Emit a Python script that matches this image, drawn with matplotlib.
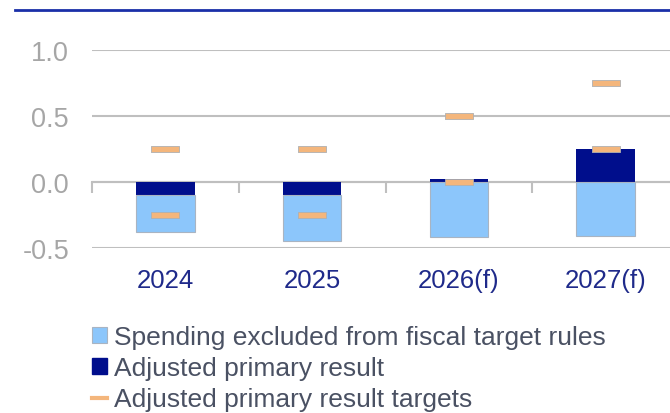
import matplotlib.pyplot as plt
import numpy as np
from matplotlib.lines import Line2D
from matplotlib.patches import Patch

plt.rcParams['font.family'] = ['Liberation Sans', 'DejaVu Sans']

# values in % of GDP
years = ["2024", "2025", "2026(f)", "2027(f)"]
adjusted_primary = [-0.10, -0.10, 0.02, 0.25]
excluded_spending = [-0.28, -0.35, -0.42, -0.41]
target_lower = [-0.25, -0.25, 0.00, 0.25]
target_upper = [0.25, 0.25, 0.50, 0.75]

light_blue = '#8cc6fb'
navy = '#000e8c'
orange = '#f4b67c'
grid_gray = '#bfbfbf'

fig = plt.figure(figsize=(6.70, 4.14), dpi=100)
ax = fig.add_axes([92 / 670, 165 / 414, 587 / 670, 198.3 / 414])

x = np.arange(len(years))
width = 0.4

# navy sits next to zero, the excluded spending hangs below it
ax.bar(x, adjusted_primary, width, color=navy, zorder=3)
bottoms = np.minimum(adjusted_primary, 0)
ax.bar(x, excluded_spending, width, bottom=bottoms, color=light_blue,
       edgecolor='#a9b4c2', linewidth=0.8, zorder=3)

# flat rectangle marker for the targets
dash = [(-5, -1), (5, -1), (5, 1), (-5, 1), (-5, -1)]
for t in (target_lower, target_upper):
    ax.plot(x, t, linestyle='none', marker=dash, markersize=19.5,
            markerfacecolor=orange, markeredgecolor='#b0b0b0',
            markeredgewidth=0.6, zorder=4)

ax.set_xlim(-0.5, 3.5)
ax.set_ylim(-0.5, 1.0)
ax.set_yticks([-0.5, 0.0, 0.5, 1.0])
ax.set_yticklabels(['-0.5', '0.0', '0.5', '1.0'])
ax.yaxis.grid(True, color=grid_gray, linewidth=1.5, zorder=0)
ax.tick_params(axis='y', length=0, pad=16.5, labelsize=19.5, labelcolor='#a6a6a6')

for s in ['top', 'right', 'left']:
    ax.spines[s].set_visible(False)
ax.spines['bottom'].set_position(('data', 0))
ax.spines['bottom'].set_color(grid_gray)
ax.spines['bottom'].set_linewidth(1.5)
ax.spines['bottom'].set_zorder(2)

# ticks between categories on the zero line, labels below the plot
ax.set_xticks(np.arange(-0.5, 3.6, 1.0))
ax.set_xticklabels([])
ax.tick_params(axis='x', direction='out', length=8, width=1.5, color=grid_gray)
label_y = -0.5 - 32 / 132.2
for i, lab in enumerate(years):
    ax.text(i, label_y, lab, ha='center', va='center',
            fontsize=18.5, color='#1f2a8a')

handles = [
    Patch(facecolor=light_blue, edgecolor='#a9b4c2', linewidth=0.8),
    Patch(facecolor=navy, edgecolor=navy),
    Line2D([0], [0], color=orange, linewidth=3),
]
labels = ['Spending excluded from fiscal target rules',
          'Adjusted primary result',
          'Adjusted primary result targets']
leg = fig.legend(handles, labels, loc='upper left',
                 bbox_to_anchor=(92 / 670, 1 - 326 / 414), frameon=False,
                 fontsize=19, handlelength=0.56, handleheight=0.56,
                 handletextpad=0.28, labelspacing=0.27, borderpad=0,
                 borderaxespad=0)
for t in leg.get_texts():
    t.set_color('#4a5163')

# rule across the top of the chart
fig.add_artist(Line2D([15 / 670, 1.0], [1 - 10.7 / 414] * 2,
                      color='#1a2fa8', linewidth=2.0))

fig.savefig('out.png', dpi=100)
